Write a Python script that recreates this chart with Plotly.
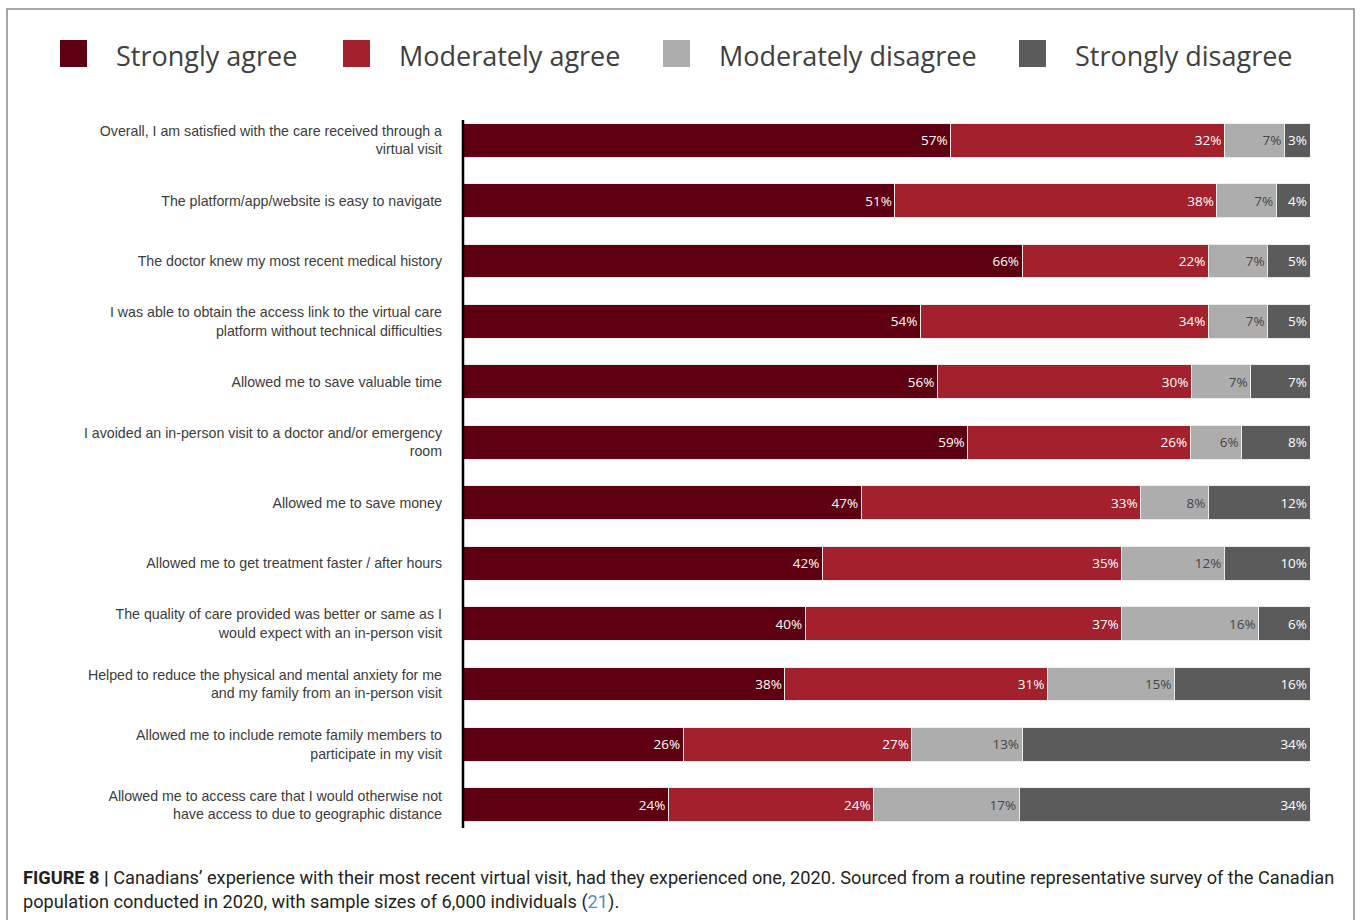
import plotly.graph_objects as go

categories = [
    "Overall, I am satisfied with the care received through a<br>virtual visit",
    "The platform/app/website is easy to navigate",
    "The doctor knew my most recent medical history",
    "I was able to obtain the access link to the virtual care<br>platform without technical difficulties",
    "Allowed me to save valuable time",
    "I avoided an in-person visit to a doctor and/or emergency<br>room",
    "Allowed me to save money",
    "Allowed me to get treatment faster / after hours",
    "The quality of care provided was better or same as I<br>would expect with an in-person visit",
    "Helped to reduce the physical and mental anxiety for me<br>and my family from an in-person visit",
    "Allowed me to include remote family members to<br>participate in my visit",
    "Allowed me to access care that I would otherwise not<br>have access to due to geographic distance",
]

strongly_agree = [57, 51, 66, 54, 56, 59, 47, 42, 40, 38, 26, 24]
moderately_agree = [32, 38, 22, 34, 30, 26, 33, 35, 37, 31, 27, 24]
moderately_disagree = [7, 7, 7, 7, 7, 6, 8, 12, 16, 15, 13, 17]
strongly_disagree = [3, 4, 5, 5, 7, 8, 12, 10, 6, 16, 34, 34]

series_names = ["Strongly agree", "Moderately agree", "Moderately disagree", "Strongly disagree"]
series_values = [strongly_agree, moderately_agree, moderately_disagree, strongly_disagree]
colors = ["#5e0011", "#a2212d", "#adadad", "#5b5b5b"]
text_colors = ["#ffffff", "#ffffff", "#454545", "#ffffff"]

W, H = 1360, 920
L, R, T, B = 463, 50, 110, 85
pw, ph = W - L - R, H - T - B

fig = go.Figure()
for name, vals, c, tc in zip(series_names, series_values, colors, text_colors):
    fig.add_trace(go.Bar(
        y=categories, x=vals, orientation="h", name=name,
        marker=dict(color=c, line=dict(color="#ececec", width=1)),
        text=[f"{v}%" for v in vals], texttemplate="%{text}",
        textposition="inside", insidetextanchor="end",
        textfont=dict(family="Open Sans", size=13.5, color=tc),
        showlegend=False, hoverinfo="skip",
    ))

fig.update_layout(
    width=W, height=H, barmode="stack", barnorm="percent", bargap=0.44,
    margin=dict(l=L, r=R, t=T, b=B),
    paper_bgcolor="white", plot_bgcolor="white",
    uniformtext=dict(minsize=13, mode="show"),
    xaxis=dict(range=[0, 100], visible=False, fixedrange=True),
    yaxis=dict(autorange="reversed", showline=False,
               ticks="", ticklabelstandoff=20, showgrid=False, zeroline=False,
               tickfont=dict(family="Liberation Sans, Arial", size=14.2, color="#3c3c3c")),
)

def px_x(x):
    return (x - L) / pw

def px_y(y):
    return 1 - (y - T) / ph

shapes = [
    dict(type="rect", xref="paper", yref="paper",
         x0=px_x(7), x1=px_x(1354), y0=px_y(930), y1=px_y(9),
         line=dict(color="#8a8a8a", width=1.5), fillcolor="rgba(0,0,0,0)", layer="below"),
    dict(type="line", xref="paper", yref="paper",
         x0=px_x(463), x1=px_x(463), y0=px_y(828), y1=px_y(120),
         line=dict(color="#000000", width=2.5)),
]
legend_sq_x = [60, 343, 663, 1019]
annotations = []
for sx, name, c in zip(legend_sq_x, series_names, colors):
    shapes.append(dict(type="rect", xref="paper", yref="paper",
                       x0=px_x(sx), x1=px_x(sx + 27), y0=px_y(67), y1=px_y(40),
                       line=dict(color=c, width=0), fillcolor=c))
    annotations.append(dict(xref="paper", yref="paper", x=px_x(sx + 54), y=px_y(55),
                            xanchor="left", yanchor="middle", showarrow=False,
                            text=name, font=dict(family="Open Sans", size=27, color="#404040")))

cap_font = dict(family="Roboto", size=18.2, color="#231f20")
annotations.append(dict(xref="paper", yref="paper", x=px_x(21), y=px_y(877),
                        xanchor="left", yanchor="middle", showarrow=False, font=cap_font,
                        text="<b>FIGURE 8 |</b> Canadians\u2019 experience with their most recent virtual visit, had they experienced one, 2020. Sourced from a routine representative survey of the Canadian"))
annotations.append(dict(xref="paper", yref="paper", x=px_x(21), y=px_y(902),
                        xanchor="left", yanchor="middle", showarrow=False, font=cap_font,
                        text="population conducted in 2020, with sample sizes of 6,000 individuals (<span style='color:#5b8ac6'>21</span>)."))

fig.update_layout(shapes=shapes, annotations=annotations)
fig.write_html("out.html")
